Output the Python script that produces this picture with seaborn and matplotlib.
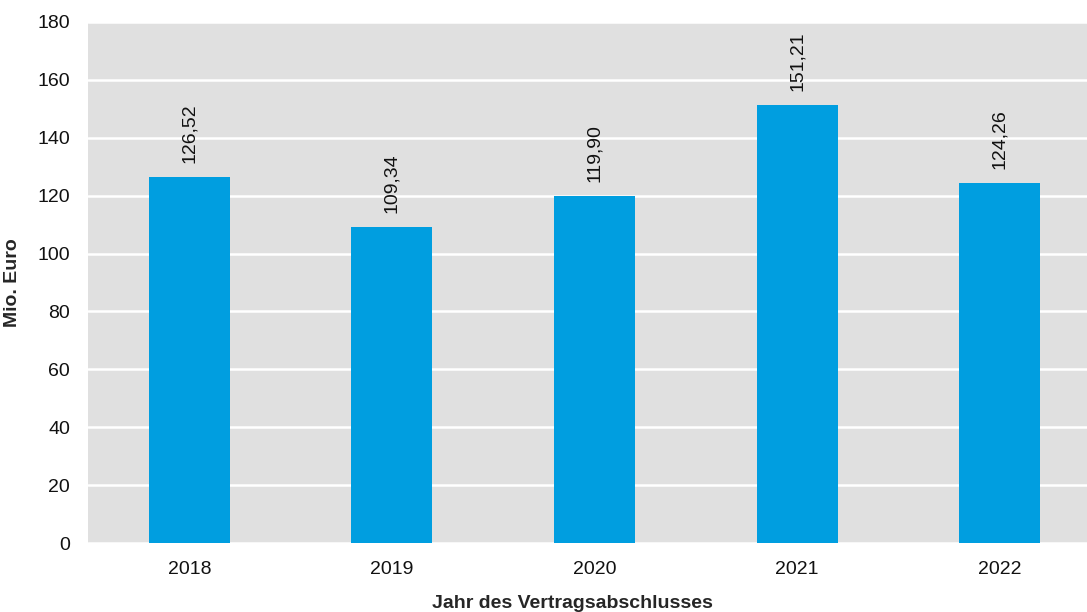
import matplotlib
matplotlib.use("Agg")
import matplotlib.pyplot as plt
import seaborn as sns
import pandas as pd

# Contract volume per year of signing (million euro)
years = ["2018", "2019", "2020", "2021", "2022"]
values = [126.52, 109.34, 119.90, 151.21, 124.26]
y_ticks = [0, 20, 40, 60, 80, 100, 120, 140, 160, 180]

df = pd.DataFrame({"Jahr": years, "Wert": values})

sns.set_theme(style="white")
plt.rcParams["font.family"] = ["Liberation Sans", "DejaVu Sans"]
plt.rcParams["font.size"] = 14

fig = plt.figure(figsize=(10.87, 6.12), dpi=100)
# plot area runs slightly past the right edge of the canvas
ax = fig.add_axes([88 / 1087, 69 / 612, 1013 / 1087, 521 / 612])
ax.set_facecolor("#e0e0e0")

sns.barplot(data=df, x="Jahr", y="Wert", color="#009ee0", width=0.4,
            saturation=1, linewidth=0, ax=ax, zorder=3)

ax.set_ylim(0, 180)
ax.set_yticks(y_ticks)
ax.set_xlim(-0.5, len(years) - 0.5)
ax.yaxis.grid(True, color="white", linewidth=1.8, zorder=0)
ax.set_axisbelow(True)
for s in ax.spines.values():
    s.set_visible(False)

ax.tick_params(axis="both", length=0, labelsize=14, colors="#111111")
ax.tick_params(axis="y", pad=13)
ax.tick_params(axis="x", pad=13)

ax.set_xlabel("Jahr des Vertragsabschlusses", fontsize=14, fontweight="bold",
              va="center")
ax.xaxis.set_label_coords((572 - 88) / 1013, -60 / 521)
ax.set_ylabel("Mio. Euro", fontsize=14, fontweight="bold", labelpad=12)

for i, v in enumerate(values):
    ax.annotate(f"{v:.2f}".replace(".", ","), (i, v), xytext=(0, 10),
                textcoords="offset points", rotation=90, ha="center", va="bottom",
                fontsize=14, color="#111111")

fig.savefig("out.png", dpi=100)
